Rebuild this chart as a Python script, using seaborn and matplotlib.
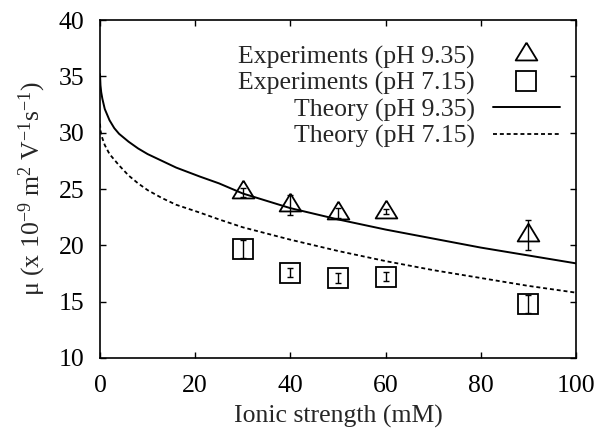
import matplotlib
matplotlib.use('Agg')
import matplotlib.pyplot as plt
import seaborn as sns
import pandas as pd

# --- Data ---
# Experimental points (ionic strength in mM, mobility in 1e-9 m^2/Vs)
ionic_exp = [30, 40, 50, 60, 90]
mu_pH935 = [24.7, 23.6, 22.9, 23.0, 20.9]
err_pH935 = [0.4, 0.9, 0.45, 0.25, 1.35]
mu_pH715 = [19.7, 17.55, 17.1, 17.2, 14.75]
err_pH715 = [0.8, 0.4, 0.4, 0.4, 0.8]

# Theory curves, values read at these ionic strengths
ionic_theory = [0, 0.1, 0.25, 0.5, 1, 2, 3, 4, 6, 8, 10, 13, 16, 21, 25, 30, 40, 50, 60, 70, 80, 90, 100]
theory_pH935 = [35.2, 34.2, 33.6, 33.0, 32.1, 31.1, 30.4, 29.9, 29.2, 28.6, 28.1, 27.5, 26.9,
                26.1, 25.5, 24.6, 23.3, 22.3, 21.4, 20.6, 19.8, 19.1, 18.4]
theory_pH715 = [30.8, 30.2, 29.9, 29.5, 28.9, 28.1, 27.6, 27.1, 26.2, 25.5, 24.9, 24.2, 23.6,
                22.9, 22.3, 21.6, 20.5, 19.5, 18.6, 17.8, 17.1, 16.4, 15.8]

df_exp = pd.DataFrame({'I': ionic_exp, 'mu935': mu_pH935, 'mu715': mu_pH715})
df_th = pd.DataFrame({'I': ionic_theory, 'th935': theory_pH935, 'th715': theory_pH715})

# --- Style ---
sns.set_style('ticks')
plt.rcParams['font.family'] = ['Liberation Serif', 'DejaVu Serif']
plt.rcParams['mathtext.fontset'] = 'custom'
plt.rcParams['mathtext.rm'] = 'Liberation Serif'
plt.rcParams['mathtext.it'] = 'Liberation Serif:italic'

fs = 18.5
fig = plt.figure(figsize=(6.01, 4.32), dpi=100)
ax = fig.add_axes([0.1664, 0.1713, 0.792, 0.7824])

# triangle with centroid at the data point (gnuplot style)
tri = [(0, 1.09), (-1, -0.55), (1, -0.55), (0, 1.09)]

sns.lineplot(data=df_exp, x='I', y='mu935', ax=ax, linestyle='', marker=tri,
             markersize=17, markerfacecolor='none', markeredgecolor='black',
             markeredgewidth=1.3, color='black', label='Experiments (pH 9.35)')
sns.lineplot(data=df_exp, x='I', y='mu715', ax=ax, linestyle='', marker='s',
             markersize=14, markerfacecolor='none', markeredgecolor='black',
             markeredgewidth=1.3, color='black', label='Experiments (pH 7.15)')
sns.lineplot(data=df_th, x='I', y='th935', ax=ax, color='black', linewidth=1.4,
             label='Theory (pH 9.35)')
sns.lineplot(data=df_th, x='I', y='th715', ax=ax, color='black', linewidth=1.3,
             dashes=(2.2, 1.6), label='Theory (pH 7.15)')

ax.errorbar(ionic_exp, mu_pH935, yerr=err_pH935, fmt='none', ecolor='black',
            elinewidth=1.0, capsize=2.5, capthick=1.0)
ax.errorbar(ionic_exp, mu_pH715, yerr=err_pH715, fmt='none', ecolor='black',
            elinewidth=1.0, capsize=2.5, capthick=1.0)

ax.set_xlim(0, 100)
ax.set_ylim(10, 40)
ax.set_xticks([0, 20, 40, 60, 80, 100])
ax.set_yticks([10, 15, 20, 25, 30, 35, 40])
ax.tick_params(direction='in', top=True, right=True, length=4, width=1,
               labelsize=fs, colors='black')
ax.tick_params(axis='x', pad=12)
ax.tick_params(axis='y', pad=11)
for s in ax.spines.values():
    s.set_linewidth(1.2)
    s.set_color('black')

ax.set_xlabel('Ionic strength (mM)', fontsize=fs, labelpad=6)
ax.set_ylabel(r'μ (x 10$^{-9}$ m$^{2}$ V$^{-1}$s$^{-1}$)', fontsize=fs,
              labelpad=8)

ax.legend(loc='upper right', bbox_to_anchor=(0.966, 0.925), frameon=False,
          markerfirst=False, fontsize=fs, handlelength=2.6, handletextpad=0.7,
          labelspacing=0.12, borderaxespad=0, borderpad=0)

fig.savefig('out.png', dpi=100)
